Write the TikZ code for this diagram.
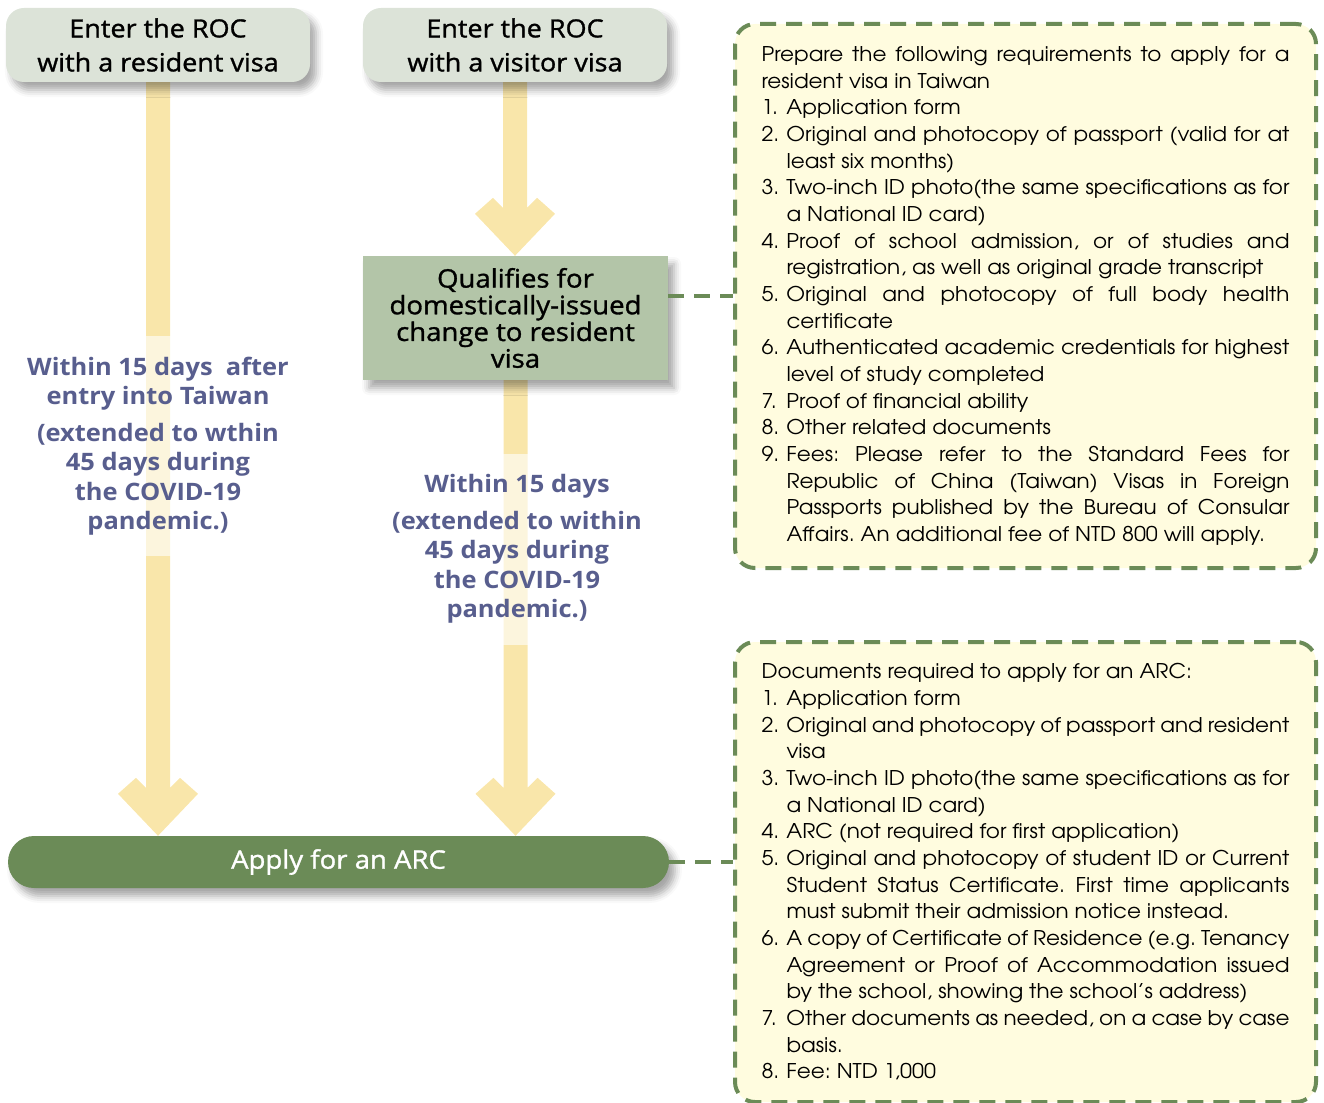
\documentclass[tikz,border=0pt]{standalone}
\usepackage{fontspec}
\setmainfont{Open Sans}
\newfontfamily\boxsans{Open Sans}[FakeBold=1.2,FakeStretch=1.08]
\newfontfamily\waitsans{Open Sans}[FakeStretch=1.06]
\newfontfamily\gothic{TeX Gyre Adventor}[FakeStretch=1.06]
\usetikzlibrary{positioning,backgrounds,shadows.blur}

\definecolor{boxgray}{HTML}{DCE3D8}
\definecolor{qualgreen}{HTML}{B3C5A8}
\definecolor{bargreen}{HTML}{6B8B57}
\definecolor{notefill}{HTML}{FFFCDF}
\definecolor{arrowyel}{HTML}{F9E6AA}
\definecolor{waittext}{HTML}{585E8E}

% thick arrow with a chevron head, from #1 down to the tip #2
\newcommand\chevarrow[2]{%
  \path let \p1=#1, \p2=#2 in [fill=arrowyel]
    (\x1-12pt,\y1) -- (\x1-12pt,\y2+48pt) -- (\x1-22pt,\y2+58pt) -- (\x1-40pt,\y2+42pt)
    -- (\x1,\y2) -- (\x1+40pt,\y2+42pt) -- (\x1+22pt,\y2+58pt) -- (\x1+12pt,\y2+48pt)
    -- (\x1+12pt,\y1) -- cycle;}
\newcommand\noteitem[2]{\par\hangindent=25pt\hangafter=1\noindent\makebox[25pt][l]{#1.}#2}

\begin{document}
\begin{tikzpicture}[x=1pt,y=-1pt]
\useasboundingbox (0,0) rectangle (1324,1102);

	\begin{scope}[every node/.style={align=center,inner sep=0pt,
	    blur shadow={shadow xshift=6pt,shadow yshift=-8pt,shadow blur radius=7pt,shadow opacity=35}}]
    \node (enterres) at (158,45) [fill=boxgray,rounded corners=18pt,minimum width=304pt,minimum height=74pt,
        font=\boxsans\fontsize{25}{34}\selectfont] {Enter the ROC\\with a resident visa};
    \node (entervis) at (515,45) [fill=boxgray,rounded corners=18pt,minimum width=304pt,minimum height=74pt,
        font=\boxsans\fontsize{25}{34}\selectfont] {Enter the ROC\\with a visitor visa};
    \node (qual) at (515.5,318) [fill=qualgreen,minimum width=305pt,minimum height=124pt,
        font=\boxsans\fontsize{25.5}{26.7}\selectfont] {Qualifies for\\domestically-issued\\change to resident\\visa};
    \node (arc) at (338.5,862) [fill=bargreen,rounded corners=26pt,minimum width=661pt,minimum height=52pt,
        text=white,font=\boxsans\fontsize{25.5}{30}\selectfont] {Apply for an ARC};
	\end{scope}

	\begin{scope}[every node/.style={draw=bargreen,line width=4pt,dash pattern=on 16pt off 10pt,
	    fill=notefill,rounded corners=20pt,inner xsep=26.5pt,inner ysep=0pt,minimum width=581pt,
	    text width=528pt,align=justify,font=\gothic\fontsize{20.3}{26.67}\selectfont}]
    \node (req) at (1025.5,296) [minimum height=544pt] {\parindent=0pt\tolerance=9999\frenchspacing
      Prepare the following requirements to apply for a\linebreak resident visa in Taiwan
      \noteitem{1}{Application form}
      \noteitem{2}{Original and photocopy of passport (valid for at\linebreak least six months)}
      \noteitem{3}{Two-inch ID photo(the same specifications as for\linebreak a National ID card)}
      \noteitem{4}{Proof of school admission, or of studies and\linebreak registration, as well as original grade transcript}
      \noteitem{5}{Original and photocopy of full body health\linebreak certificate}
      \noteitem{6}{Authenticated academic credentials for highest\linebreak level of study completed}
      \noteitem{7}{Proof of financial ability}
      \noteitem{8}{Other related documents}
      \noteitem{9}{Fees: Please refer to the Standard Fees for\linebreak Republic of China (Taiwan) Visas in Foreign\linebreak
        Passports published by the Bureau of Consular\linebreak Affairs. An additional fee of NTD 800 will apply.}\par};
    \node (docs) at (1025.5,872) [minimum height=460pt] {\parindent=0pt\tolerance=9999\frenchspacing
      Documents required to apply for an ARC:
      \noteitem{1}{Application form}
      \noteitem{2}{Original and photocopy of passport and resident\linebreak visa}
      \noteitem{3}{Two-inch ID photo(the same specifications as for\linebreak a National ID card)}
      \noteitem{4}{ARC (not required for first application)}
      \noteitem{5}{Original and photocopy of student ID or Current\linebreak Student Status Certificate. First time applicants\linebreak
        must submit their admission notice instead.}
      \noteitem{6}{A copy of Certificate of Residence (e.g. Tenancy\linebreak Agreement or Proof of Accommodation issued\linebreak
        by the school, showing the school’s address)}
      \noteitem{7}{Other documents as needed, on a case by case\linebreak basis.}
      \noteitem{8}{Fee: NTD 1,000}\par};
	\end{scope}

	\begin{scope}[on background layer]
    \chevarrow{(enterres.south)}{(arc.north -| enterres.south)}
    \chevarrow{(entervis.south)}{(qual.north)}
    \chevarrow{(qual.south)}{(arc.north -| qual.south)}
	\end{scope}

	\begin{scope}[every node/.style={fill=white,fill opacity=0.6,text opacity=1,text=waittext,
	    align=center,inner xsep=2pt,inner ysep=21pt,font=\waitsans\bfseries\fontsize{24}{29.5}\selectfont}]
    \node (wait1) at (158,446) {Within 15 days\ \ after\\entry into Taiwan\\[7pt](extended to wthin\\45 days during\\the COVID-19\\pandemic.)};
    \node (wait2) at (517,549) {Within 15 days\\[7pt](extended to within\\45 days during\\the COVID-19\\pandemic.)};
	\end{scope}

	\begin{scope}[draw=bargreen,line width=4pt,dash pattern=on 16pt off 10pt]
    \draw (qual.east |- req.west) -- (req.west);
    \draw (arc.east) -- (arc.east -| docs.west);
	\end{scope}
\end{tikzpicture}
\end{document}
